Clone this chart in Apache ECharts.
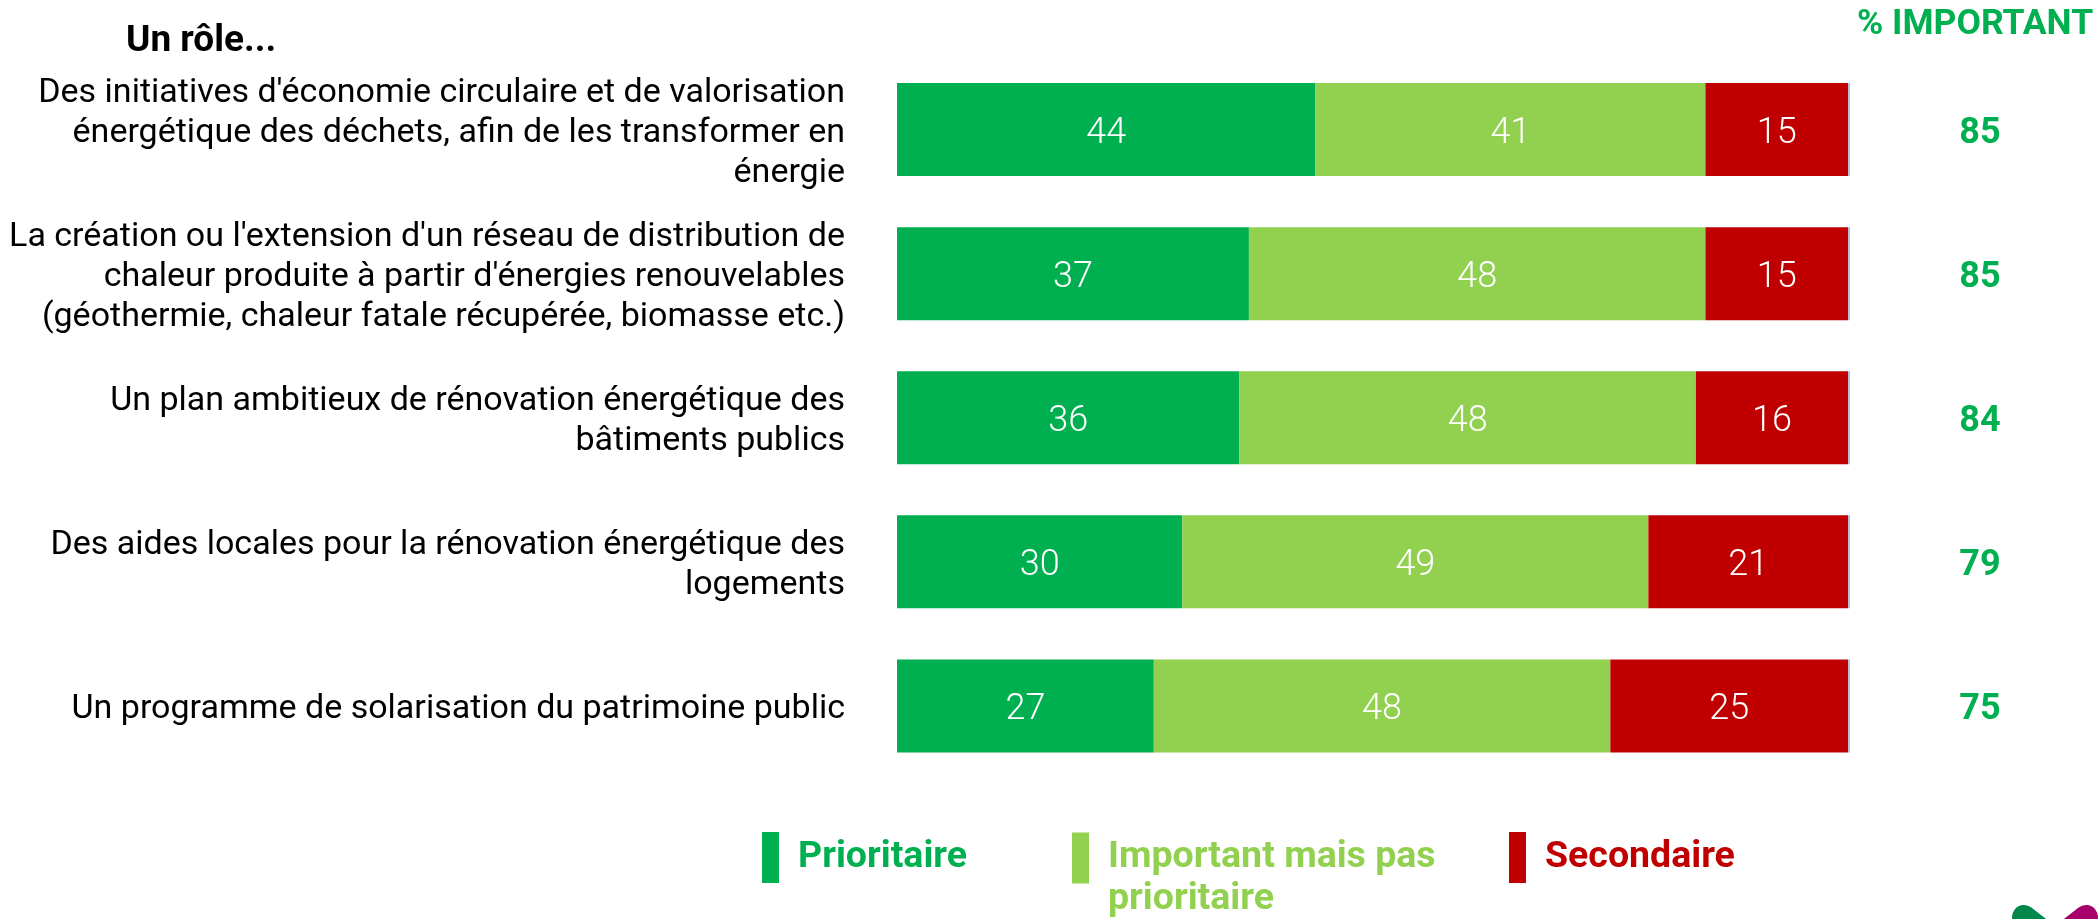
<!DOCTYPE html>
<html>
<head>
<meta charset="utf-8">
<script src="https://cdn.jsdelivr.net/npm/echarts@6/dist/echarts.min.js"></script>
<style>
  html, body { margin: 0; padding: 0; background: #fff; }
  #chart { width: 2100px; height: 919px; }
</style>
</head>
<body>
<div id="chart"></div>
<script>
// categories, top to bottom
const categories = [
  "Des initiatives d'économie circulaire et de valorisation\nénergétique des déchets, afin de les transformer en\nénergie",
  "La création ou l'extension d'un réseau de distribution de\nchaleur produite à partir d'énergies renouvelables\n(géothermie, chaleur fatale récupérée, biomasse etc.)",
  "Un plan ambitieux de rénovation énergétique des\nbâtiments publics",
  "Des aides locales pour la rénovation énergétique des\nlogements",
  "Un programme de solarisation du patrimoine public"
]
const prioritaire = [44, 37, 36, 30, 27]
const importantPasPrio = [41, 48, 48, 49, 48]
const secondaire = [15, 15, 16, 21, 25]
const nsp = [0.2, 0.2, 0.2, 0.2, 0.2]
const totalImportant = [85, 85, 84, 79, 75]

const FONT = 'Roboto, "Noto Sans", sans-serif'
const GREEN = '#00B050'
const LIGHT = '#92D050'
const RED = '#C00000'

const chart = echarts.init(document.getElementById('chart'))

function barSeries(name, data, color) {
  return {
    name: name,
    type: 'bar',
    stack: 'total',
    barWidth: 93,
    data: data,
    itemStyle: { color: color },
    label: {
      show: true,
      position: 'inside',
      offset: [0, 4],
      color: '#fff',
      fontFamily: FONT,
      fontSize: 36,
      fontWeight: 300,
      formatter: '{c}'
    }
  }
}

// empty first line keeps the first real line centred on the icon
function legendAt(left, top, name, color) {
  return {
    data: [name],
    left: left,
    top: top,
    padding: 0,
    icon: 'rect',
    itemWidth: 17,
    itemHeight: 51,
    selectedMode: false,
    formatter: n => n === 'Important mais pas prioritaire' ? '\nImportant mais pas\nprioritaire' : n,
    textStyle: {
      color: color,
      fontFamily: FONT,
      fontSize: 37.5,
      fontWeight: 'bold',
      lineHeight: 42,
      padding: [0, 0, 0, 14]
    }
  }
}

// a thin blank line on top nudges the label block down a few pixels
function nudged(lines) {
  return '{s| }\n' + lines.split('\n').map(l => '{a|' + l + '}').join('\n')
}

const option = {
  animation: false,
  backgroundColor: '#fff',
  title: [
    {
      text: 'Un rôle...',
      left: 126,
      top: 23,
      padding: 0,
      textStyle: { fontFamily: FONT, fontSize: 37, fontWeight: 'bold', color: '#000' }
    },
    {
      text: '% IMPORTANT',
      left: 1857,
      top: 7,
      padding: 0,
      textStyle: { fontFamily: FONT, fontSize: 35.5, fontWeight: 'bold', color: GREEN }
    }
  ],
  legend: [
    legendAt(762, 832, 'Prioritaire', GREEN),
    legendAt(1072, 795, 'Important mais pas prioritaire', LIGHT),
    legendAt(1509, 832, 'Secondaire', RED)
  ],
  grid: { left: 897, right: 250, top: 57.5, bottom: 141, containLabel: false },
  xAxis: {
    type: 'value',
    min: 0,
    max: 100.2,
    show: false
  },
  yAxis: [
    {
      type: 'category',
      data: categories,
      inverse: true,
      axisLine: { show: false },
      axisTick: { show: false },
      axisLabel: {
        margin: 52,
        align: 'right',
        formatter: v => nudged(v),
        rich: {
          s: { fontSize: 4, lineHeight: 8 },
          a: { color: '#000', fontFamily: FONT, fontSize: 34, lineHeight: 40, align: 'right' }
        }
      }
    },
    {
      type: 'category',
      data: categories,
      inverse: true,
      position: 'right',
      axisLine: { show: false },
      axisTick: { show: false },
      axisLabel: {
        margin: 130,
        align: 'center',
        formatter: (v, i) => nudged(String(totalImportant[i])),
        rich: {
          s: { fontSize: 4, lineHeight: 8 },
          a: { color: GREEN, fontFamily: FONT, fontSize: 36, fontWeight: 'bold', lineHeight: 42, align: 'center' }
        }
      }
    }
  ],
  series: [
    barSeries('Prioritaire', prioritaire, GREEN),
    barSeries('Important mais pas prioritaire', importantPasPrio, LIGHT),
    barSeries('Secondaire', secondaire, RED),
    {
      name: 'NSP',
      type: 'bar',
      stack: 'total',
      barWidth: 93,
      data: nsp,
      itemStyle: { color: '#B4BEDC' },
      label: { show: false }
    }
  ],
  // logo fragment cut off at the bottom right corner
  graphic: [
    {
      type: 'line',
      shape: { x1: 2024, y1: 917, x2: 2060, y2: 945 },
      style: { stroke: '#00884A', lineWidth: 24, lineCap: 'round' }
    },
    {
      type: 'line',
      shape: { x1: 2086, y1: 917, x2: 2050, y2: 945 },
      style: { stroke: '#A8006A', lineWidth: 24, lineCap: 'round' }
    }
  ]
}

chart.setOption(option)
</script>
</body>
</html>
